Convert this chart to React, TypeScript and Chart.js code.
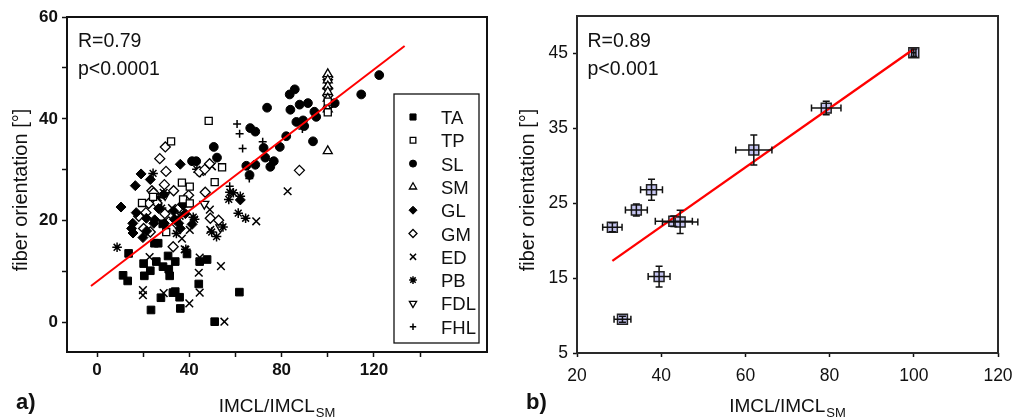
import React, { useEffect, useRef } from 'react';
import { Chart, registerables } from 'chart.js';
import { drawPoint } from 'chart.js/helpers';

Chart.register(...registerables);

const FONT = '"Liberation Sans", Arial, Helvetica, sans-serif';

// ---------------- Panel a data ----------------
const TA_PTS = [
  [13.7, 13.6], [11.3, 9.3], [13.3, 8.2], [20.2, 11.6], [20.5, 9.2], [23.1, 10.2], [25.7, 12.0],
  [24.9, 15.6], [26.5, 15.6], [23.4, 2.5], [27.7, 4.9], [28.6, 11.0], [30.8, 13.1], [31.1, 10.5],
  [31.5, 9.2], [33.9, 12.0], [32.9, 5.9], [33.9, 6.1], [35.8, 5.0], [36.1, 2.8], [39.0, 13.5],
  [44.1, 7.6], [44.5, 12.0], [47.7, 12.4], [51.0, 0.2], [61.7, 6.0], [28.5, 19.4],
];
const TP_PTS = [
  [19.5, 23.5], [24.3, 24.7], [32.1, 35.6], [48.4, 39.6], [36.8, 27.5], [40.2, 26.7], [54.2, 30.5],
  [51.0, 27.6], [37.3, 24.2], [40.2, 23.4], [30.0, 17.8], [100, 41.3], [100, 43.4],
];
const SL_PTS = [
  [50.6, 34.5], [52.0, 32.4], [41.2, 31.7], [43.0, 31.7], [66.4, 38.2], [68.6, 37.5], [73.7, 42.2],
  [64.7, 30.8], [66.1, 29.0], [68.6, 31.0], [72.2, 34.3], [72.9, 32.4], [75.1, 30.6], [76.6, 31.7],
  [79.2, 34.5], [82.0, 36.6], [83.5, 44.8], [85.7, 45.8], [83.8, 41.8], [87.8, 42.8], [86.4, 39.4],
  [89.3, 39.7], [89.8, 38.6], [91.4, 43.1], [93.6, 35.6], [94.2, 41.4], [95.0, 40.4], [103.0, 43.1],
  [114.5, 44.8], [122.3, 48.6],
];
const SM_PTS = [
  [100, 48.8], [100, 47.6], [100, 46.4], [100, 45.3], [100, 44.0], [100, 42.8], [100, 41.9], [100, 33.7],
];
const GL_PTS = [
  [10.4, 22.7], [16.6, 26.9], [19.1, 29.2], [17.0, 21.6], [15.5, 19.5], [15.6, 17.6], [19.9, 16.7],
  [21.4, 20.5], [23.1, 28.1], [24.6, 19.5], [26.7, 22.4], [28.9, 25.2], [36.1, 31.1], [33.2, 21.9],
  [33.5, 20.3], [35.4, 19.5], [36.1, 18.5], [37.3, 23.1], [38.3, 21.4], [41.2, 19.3], [62.1, 24.1],
  [21.5, 18.0], [25.0, 20.2], [29.2, 19.5], [15.0, 18.5],
];
const GM_PTS = [
  [27.2, 32.2], [29.6, 34.5], [29.9, 29.7], [23.8, 25.9], [29.2, 27.1], [33.2, 25.9], [26.0, 23.5],
  [22.4, 23.4], [21.2, 21.6], [18.1, 20.9], [20.2, 18.5], [23.1, 17.8], [29.4, 21.4], [31.1, 19.8],
  [33.0, 14.9], [34.7, 19.3], [39.7, 25.0], [39.0, 23.7], [44.3, 29.6], [46.7, 30.1], [48.8, 31.2],
  [46.9, 25.6], [49.1, 20.5], [52.7, 20.1], [87.7, 29.9], [100, 48.2], [100, 46.0], [100, 44.6],
  [24.5, 25.5], [35.5, 22.5],
];
const ED_PTS = [
  [19.9, 6.4], [19.9, 5.4], [22.8, 12.9], [28.9, 5.8], [36.8, 16.5], [38.0, 14.4], [40.2, 18.2],
  [40.0, 3.8], [44.1, 9.8], [44.5, 5.9], [44.5, 12.8], [53.7, 11.1], [55.2, 0.2], [82.6, 25.8],
  [69.0, 19.9], [49.1, 18.2], [49.8, 30.7], [28.9, 25.5], [48.9, 22.2], [45.4, 29.7], [32.5, 22.5],
];
const PB_PTS = [
  [8.7, 14.8], [24.3, 29.3], [43.3, 30.1], [44.8, 29.5], [34.4, 17.5], [42.3, 20.3], [49.7, 17.8],
  [51.8, 16.9], [54.6, 18.8], [57.1, 24.2], [57.6, 25.6], [59.1, 25.5], [62.1, 24.8], [61.2, 21.5],
  [64.4, 20.5], [36.0, 20.9], [41.7, 20.7], [38.5, 14.4], [28.0, 22.5], [26.5, 24.5],
];
const FDL_PTS = [[46.5, 23.3], [53.5, 18.7], [29.5, 25.0], [100, 47.2]];
const FHL_PTS = [[60.7, 39.0], [61.8, 37.1], [63.1, 34.2], [71.8, 35.5], [66.0, 28.3], [57.5, 26.8], [89.0, 38.0]];

const A_FIT_X = [-2.6, 133.3];
const A_FIT_Y = [7.2, 54.3];
const A_X_TICKS = [0, 20, 40, 60, 80, 100, 120, 140];
const A_X_LABELS = [0, 40, 80, 120];
const A_Y_TICKS = [0, 10, 20, 30, 40, 50, 60];
const A_Y_LABELS = [0, 20, 40, 60];
const A_STATS = ['R=0.79', 'p<0.0001'];

// ---------------- Panel b data ----------------
const B_X = [100.0, 79.2, 62.0, 37.7, 34.1, 28.4, 43.0, 44.5, 39.5, 30.8];
const B_Y = [45.1, 37.7, 32.1, 26.8, 24.1, 21.8, 22.6, 22.5, 15.2, 9.5];
const B_XERR = [0.5, 3.5, 4.3, 2.6, 2.6, 2.3, 4.4, 4.2, 2.6, 2.0];
const B_YERR = [0.5, 0.9, 2.0, 1.4, 0.8, 0.6, 0.7, 1.55, 1.4, 0.4];
const B_FIT_X = [28.4, 100];
const B_FIT_Y = [17.3, 45.6];
const B_X_TICKS = [20, 40, 60, 80, 100, 120];
const B_Y_TICKS = [5, 15, 25, 35, 45];
const B_STATS = ['R=0.89', 'p<0.001'];

const Y_TITLE = 'fiber orientation [°]';
const X_TITLE_MAIN = 'IMCL/IMCL';
const X_TITLE_SUB = 'SM';

const SERIES_A = [
  { label: 'TA', pts: TA_PTS, style: 'rect', filled: true, r: 5.4, lw: 1 },
  { label: 'TP', pts: TP_PTS, style: 'rect', filled: false, r: 5, lw: 1.3 },
  { label: 'SL', pts: SL_PTS, style: 'circle', filled: true, r: 4.4, lw: 1 },
  { label: 'SM', pts: SM_PTS, style: 'triangle', filled: false, r: 5.2, lw: 1.3 },
  { label: 'GL', pts: GL_PTS, style: 'rectRot', filled: true, r: 5, lw: 1 },
  { label: 'GM', pts: GM_PTS, style: 'rectRot', filled: false, r: 5, lw: 1.3 },
  { label: 'ED', pts: ED_PTS, style: 'crossRot', filled: false, r: 5.4, lw: 1.5 },
  { label: 'PB', pts: PB_PTS, style: 'star', filled: false, r: 4.8, lw: 1.5 },
  { label: 'FDL', pts: FDL_PTS, style: 'triangle', filled: false, r: 5.2, lw: 1.3, rot: 180 },
  { label: 'FHL', pts: FHL_PTS, style: 'cross', filled: false, r: 4, lw: 1.5 },
];

function drawXTitle(ctx: CanvasRenderingContext2D, cx: number, baseline: number) {
  ctx.font = `19px ${FONT}`;
  const w1 = ctx.measureText(X_TITLE_MAIN).width;
  ctx.font = `13px ${FONT}`;
  const w2 = ctx.measureText(X_TITLE_SUB).width;
  const x0 = cx - (w1 + w2 + 1) / 2;
  ctx.textAlign = 'left';
  ctx.textBaseline = 'alphabetic';
  ctx.font = `19px ${FONT}`;
  ctx.fillText(X_TITLE_MAIN, x0, baseline);
  ctx.font = `13px ${FONT}`;
  ctx.fillText(X_TITLE_SUB, x0 + w1 + 1, baseline + 5);
}

function drawYTitle(ctx: CanvasRenderingContext2D, x: number, cy: number) {
  ctx.save();
  ctx.translate(x, cy);
  ctx.rotate(-Math.PI / 2);
  ctx.textAlign = 'center';
  ctx.textBaseline = 'alphabetic';
  ctx.font = `20px ${FONT}`;
  ctx.fillText(Y_TITLE, 0, 0);
  ctx.restore();
}

function drawFrame(ctx: CanvasRenderingContext2D, ca: any, color: string) {
  ctx.strokeStyle = color;
  ctx.lineWidth = 2;
  ctx.strokeRect(ca.left, ca.top, ca.right - ca.left, ca.bottom - ca.top);
}

const decorA = {
  id: 'decorA',
  afterDraw(chart: any) {
    const { ctx, chartArea: ca } = chart;
    ctx.save();
    drawFrame(ctx, ca, '#111');
    ctx.fillStyle = '#111';
    ctx.textAlign = 'left';
    ctx.textBaseline = 'alphabetic';
    ctx.font = `19.5px ${FONT}`;
    ctx.fillText(A_STATS[0], ca.left + 11, ca.top + 30);
    ctx.fillText(A_STATS[1], ca.left + 11, ca.top + 58);
    // legend
    const lx = 394, ly = 94, lw = 85, lh = 249;
    ctx.strokeStyle = '#111';
    ctx.lineWidth = 1.3;
    ctx.strokeRect(lx, ly, lw, lh);
    SERIES_A.forEach((s, i) => {
      const cy = 117 + i * 23.3;
      ctx.fillStyle = s.filled ? '#000' : '#fff';
      ctx.strokeStyle = '#000';
      ctx.lineWidth = s.lw;
      drawPoint(ctx, { pointStyle: s.style, radius: s.r * 0.8, rotation: s.rot || 0, borderWidth: s.lw } as any, 413, cy);
      ctx.fillStyle = '#111';
      ctx.font = `18.5px ${FONT}`;
      ctx.textAlign = 'left';
      ctx.fillText(s.label, 441, cy + 7);
    });
    ctx.fillStyle = '#111';
    drawXTitle(ctx, (ca.left + ca.right) / 2, 411.5);
    drawYTitle(ctx, 27, 190);
    ctx.font = `bold 22px ${FONT}`;
    ctx.textAlign = 'left';
    ctx.fillText('a)', 16, 409);
    ctx.restore();
  },
};

const decorB = {
  id: 'decorB',
  afterDatasetsDraw(chart: any) {
    const { ctx, scales } = chart;
    const xs = scales.x, ys = scales.y;
    ctx.save();
    ctx.strokeStyle = '#111';
    ctx.lineWidth = 1.5;
    const cap = 3.5;
    B_X.forEach((xv, i) => {
      const px = xs.getPixelForValue(xv);
      const py = ys.getPixelForValue(B_Y[i]);
      const x1 = xs.getPixelForValue(xv - B_XERR[i]);
      const x2 = xs.getPixelForValue(xv + B_XERR[i]);
      const y1 = ys.getPixelForValue(B_Y[i] - B_YERR[i]);
      const y2 = ys.getPixelForValue(B_Y[i] + B_YERR[i]);
      ctx.beginPath();
      ctx.moveTo(x1, py); ctx.lineTo(x2, py);
      ctx.moveTo(x1, py - cap); ctx.lineTo(x1, py + cap);
      ctx.moveTo(x2, py - cap); ctx.lineTo(x2, py + cap);
      ctx.moveTo(px, y1); ctx.lineTo(px, y2);
      ctx.moveTo(px - cap, y1); ctx.lineTo(px + cap, y1);
      ctx.moveTo(px - cap, y2); ctx.lineTo(px + cap, y2);
      ctx.stroke();
    });
    ctx.restore();
  },
  afterDraw(chart: any) {
    const { ctx, chartArea: ca } = chart;
    ctx.save();
    drawFrame(ctx, ca, '#2a2a2a');
    ctx.fillStyle = '#111';
    ctx.textAlign = 'left';
    ctx.textBaseline = 'alphabetic';
    ctx.font = `19.5px ${FONT}`;
    ctx.fillText(B_STATS[0], ca.left + 10.5, 46.7);
    ctx.fillText(B_STATS[1], ca.left + 10.5, 75);
    drawXTitle(ctx, (ca.left + ca.right) / 2, 411.5);
    drawYTitle(ctx, 26, 190);
    ctx.font = `bold 22px ${FONT}`;
    ctx.textAlign = 'left';
    ctx.fillText('b)', 18, 409);
    ctx.restore();
  },
};

function tickScale(min: number, max: number, ticks: number[], labels: number[], size: number, opts: any) {
  return {
    type: 'linear',
    min,
    max,
    afterBuildTicks: (s: any) => {
      s.ticks = ticks.map((v) => ({ value: v }));
    },
    afterFit: (s: any) => {
      opts.afterFit(s);
      s.paddingLeft = 0;
      s.paddingRight = 0;
      s.paddingTop = 0;
      s.paddingBottom = 0;
    },
    border: { display: false },
    grid: {
      display: true,
      drawOnChartArea: false,
      drawTicks: true,
      tickLength: opts.tickLength,
      tickColor: '#111',
      tickWidth: 1.5,
    },
    ticks: {
      autoSkip: false,
      maxRotation: 0,
      padding: opts.padding,
      color: '#111',
      font: { family: FONT, size, weight: opts.weight },
      callback: (v: number) => (labels.includes(v) ? String(v) : ''),
    },
  };
}

function makeA(canvas: HTMLCanvasElement) {
  const datasets: any[] = [
    {
      label: 'fit',
      data: A_FIT_X.map((x, i) => ({ x, y: A_FIT_Y[i] })),
      showLine: true,
      borderColor: '#ff0000',
      borderWidth: 2,
      pointRadius: 0,
      fill: false,
    },
    ...SERIES_A.map((s) => ({
      label: s.label,
      data: s.pts.map(([x, y]) => ({ x, y })),
      pointStyle: s.style,
      pointRadius: s.r,
      pointHoverRadius: s.r,
      pointRotation: s.rot || 0,
      pointBackgroundColor: s.filled ? '#000' : '#fff',
      pointBorderColor: '#000',
      pointBorderWidth: s.lw,
    })),
  ];
  return new Chart(canvas, {
    type: 'scatter',
    data: { datasets },
    plugins: [decorA],
    options: {
      responsive: false,
      animation: false,
      devicePixelRatio: 1,
      layout: { padding: { top: 17, right: 21, left: 0, bottom: 0 } },
      plugins: { legend: { display: false }, tooltip: { enabled: false } },
      events: [],
      scales: {
        x: tickScale(-13, 169, A_X_TICKS, A_X_LABELS, 17, {
          afterFit: (s: any) => { s.height = 66; }, tickLength: 5, padding: 3, weight: 'bold',
        }),
        y: tickScale(-5.75, 60, A_Y_TICKS, A_Y_LABELS, 17, {
          afterFit: (s: any) => { s.width = 67; }, tickLength: 5, padding: 4, weight: 'bold',
        }),
      },
    } as any,
  });
}

function makeB(canvas: HTMLCanvasElement) {
  const datasets: any[] = [
    {
      label: 'fit',
      data: B_FIT_X.map((x, i) => ({ x, y: B_FIT_Y[i] })),
      showLine: true,
      borderColor: '#ff0000',
      borderWidth: 2.4,
      pointRadius: 0,
      fill: false,
    },
    {
      label: 'means',
      data: B_X.map((x, i) => ({ x, y: B_Y[i] })),
      pointStyle: 'rect',
      pointRadius: 7,
      pointHoverRadius: 7,
      pointBackgroundColor: '#c4c4f0',
      pointBorderColor: '#222',
      pointBorderWidth: 1.5,
    },
  ];
  return new Chart(canvas, {
    type: 'scatter',
    data: { datasets },
    plugins: [decorB],
    options: {
      responsive: false,
      animation: false,
      devicePixelRatio: 1,
      layout: { padding: { top: 16, right: 18, left: 0, bottom: 0 } },
      plugins: { legend: { display: false }, tooltip: { enabled: false } },
      events: [],
      scales: {
        x: tickScale(20, 120, B_X_TICKS, B_X_TICKS, 17.5, {
          afterFit: (s: any) => { s.height = 65; }, tickLength: 4, padding: 9, weight: 'normal',
        }),
        y: tickScale(5, 50, B_Y_TICKS, B_Y_TICKS, 17.5, {
          afterFit: (s: any) => { s.width = 69; }, tickLength: 4, padding: 5, weight: 'normal',
        }),
      },
    } as any,
  });
}

function Panel({ make, left }: { make: (c: HTMLCanvasElement) => Chart; left: number }) {
  const ref = useRef<HTMLCanvasElement>(null);
  useEffect(() => {
    const chart = make(ref.current as HTMLCanvasElement);
    return () => chart.destroy();
  }, [make]);
  return (
    <canvas
      ref={ref}
      width={508}
      height={418}
      style={{ position: 'absolute', left, top: 0, width: 508, height: 418 }}
    />
  );
}

export default function App() {
  return (
    <div style={{ position: 'absolute', left: 0, top: 0, width: 1016, height: 418, background: '#fff', overflow: 'hidden' }}>
      <Panel make={makeA} left={0} />
      <Panel make={makeB} left={508} />
    </div>
  );
}
